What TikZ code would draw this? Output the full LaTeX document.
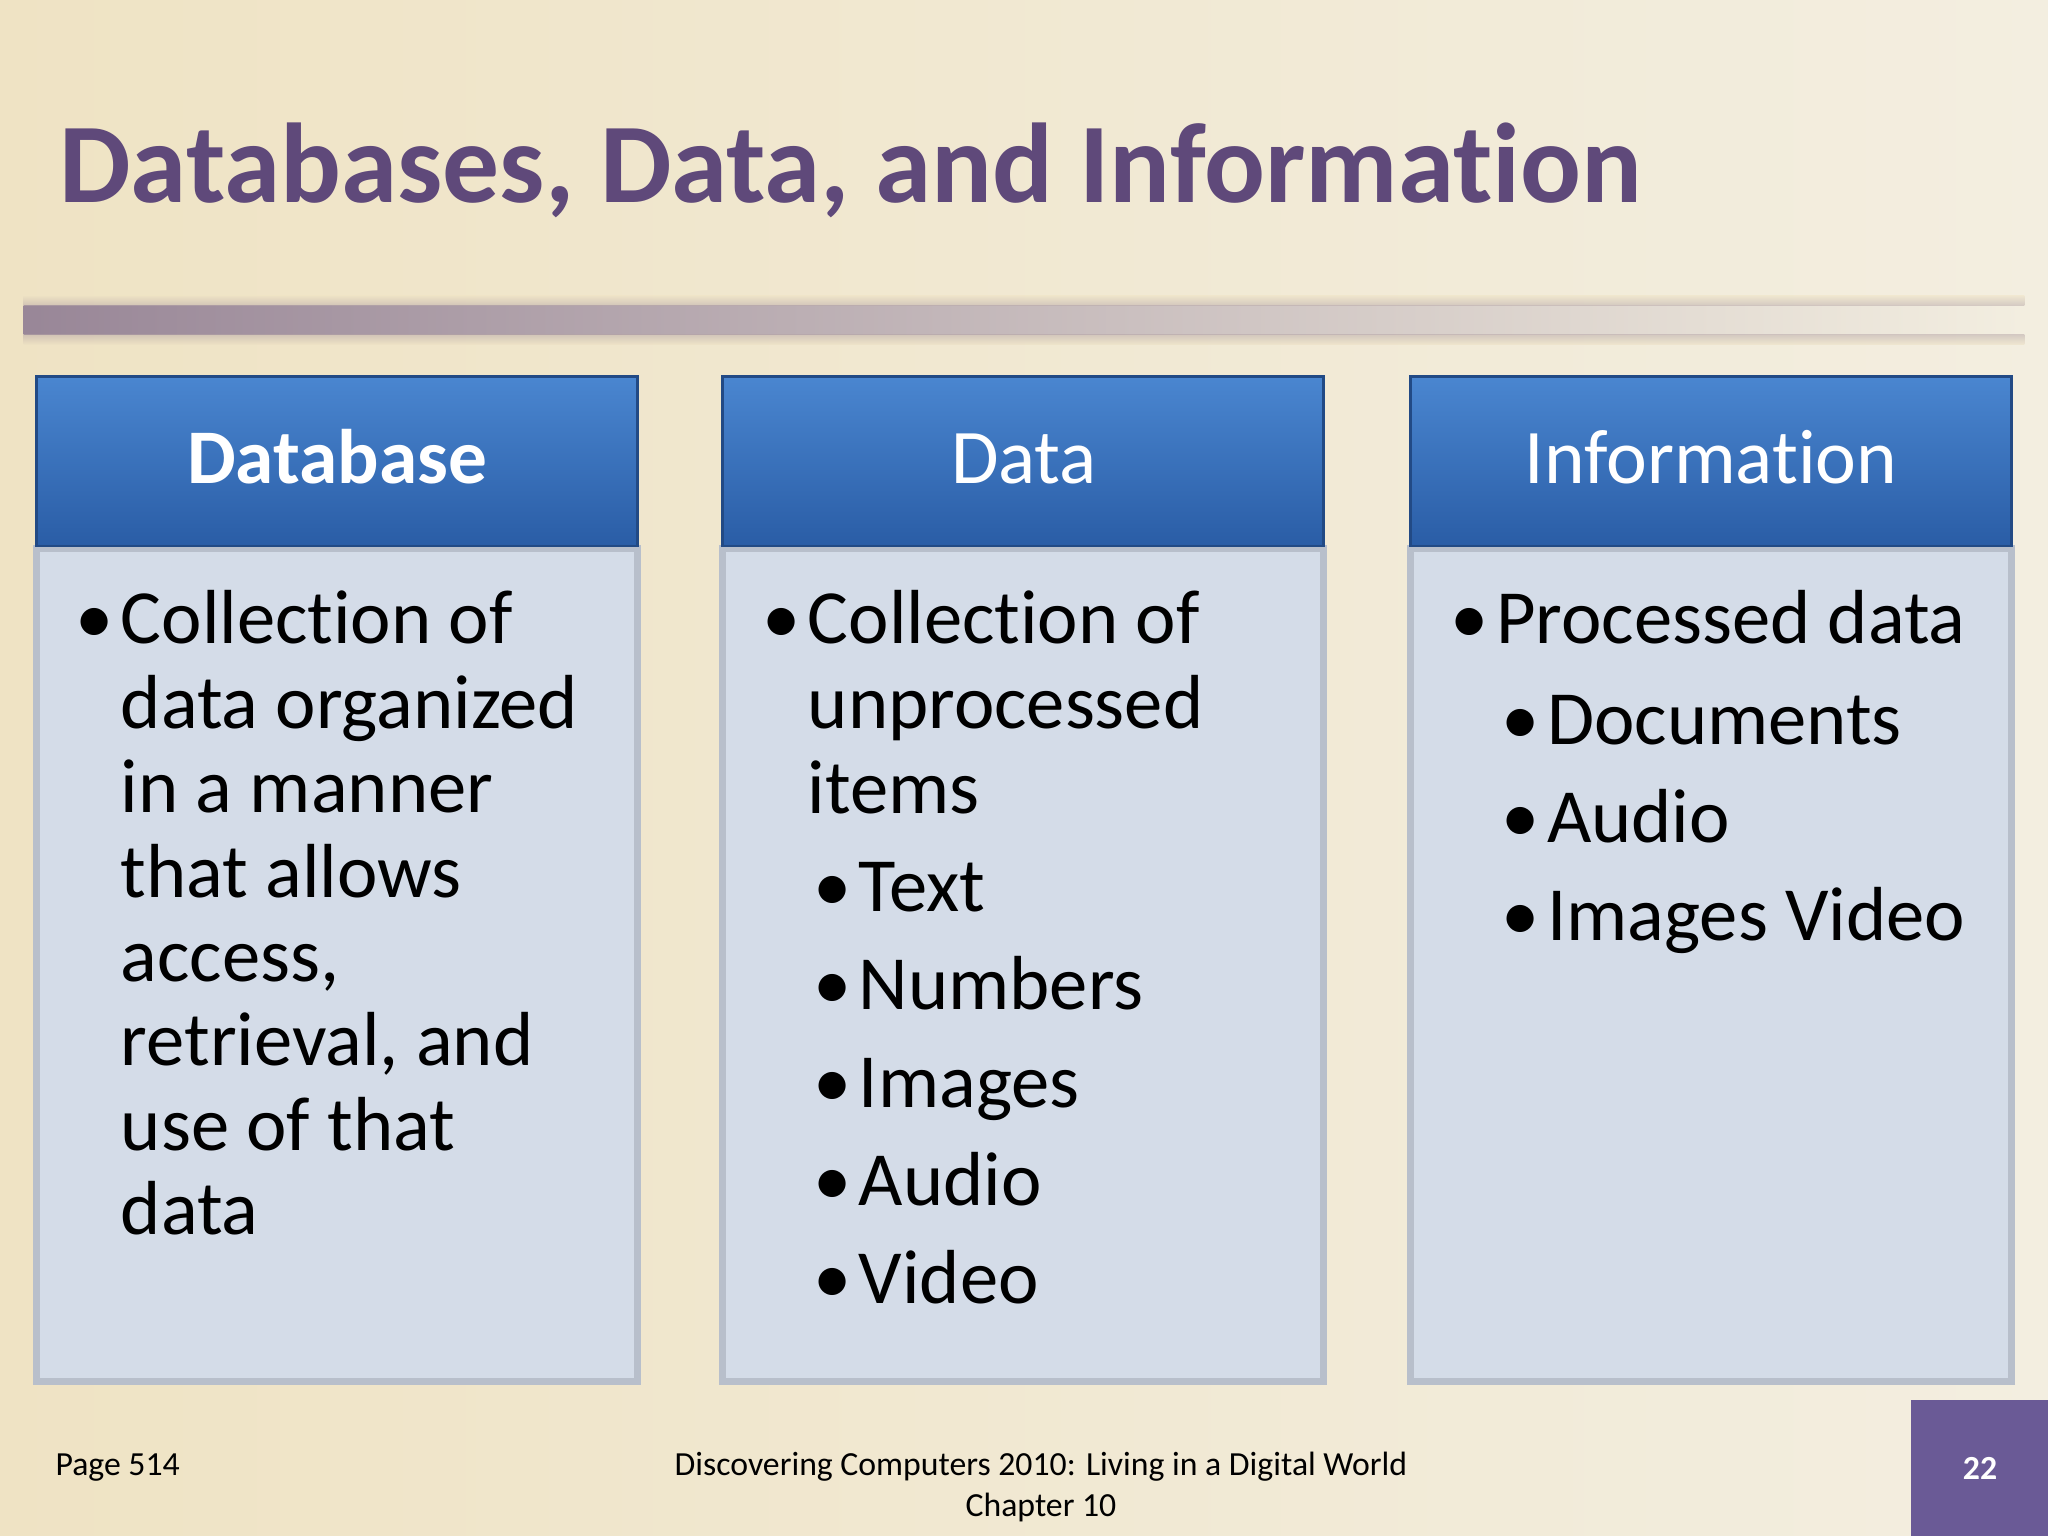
\documentclass[tikz,border=0pt]{standalone}
\usepackage{fontspec}
\setmainfont[Ligatures=NoCommon]{Carlito}
\definecolor{titlec}{HTML}{5F497A}
\definecolor{bg1}{HTML}{EFE3C4}
\definecolor{bg2}{HTML}{F3EEE0}
\definecolor{hd1}{HTML}{4A86D0}
\definecolor{hd2}{HTML}{2A5DA6}
\definecolor{bodyc}{HTML}{D4DCE8}
\definecolor{edgec}{HTML}{B8BFCB}
\definecolor{pg}{HTML}{6A5A96}
\tikzset{
 hdr/.style={draw=hd2!80!black,line width=0.8pt,top color=hd1,bottom color=hd2},
 bodybox/.style={draw=edgec,line width=2pt,fill=bodyc},
 htxt/.style={text=white,font=\fontsize{22}{26}\selectfont,anchor=base},
 btxt/.style={text=black,font=\fontsize{21.8}{26}\selectfont,anchor=base west,inner sep=0pt},
 ftxt/.style={inner sep=0pt,font=\fontsize{9.6}{11}\selectfont},
}
\begin{document}
\begin{tikzpicture}[x=0.013061cm,y=-0.013061cm]
\useasboundingbox (0,0) rectangle (1568,1176);
\shade[left color=bg1,right color=bg2] (0,0) rectangle (1568,1176);
\shade[left color=titlec!60!bg1,right color=bg2] (18,234) rectangle (1550,256);
\shade[top color=bg1,bottom color=titlec!40!bg1,opacity=0.5] (18,226) rectangle (1550,234);
\shade[bottom color=bg1,top color=titlec!40!bg1,opacity=0.5] (18,256) rectangle (1550,264);
\node[anchor=base west,inner sep=0pt,text=titlec,font=\fontsize{32.3}{38}\selectfont\bfseries] (title) at (45,155) {Databases, Data, and Information};
% boxes
\foreach \n/\x in {a/28,b/553,c/1080}{
 \draw[bodybox] (\x,420) rectangle ++(460,638);
 \draw[hdr] (\x,288) rectangle ++(460,130);
}
\node[htxt,font=\fontsize{22}{26}\selectfont\bfseries] (h1) at (258,370) {Database};
\node[htxt] (h2) at (784,370) {Data};
\node[htxt] (h3) at (1310,370) {Information};
% box 1
\node[btxt] (b1) at (57,493) {\textbullet};
\foreach \t [count=\i from 0] in {Collection of,data organized,in a manner,that allows,{access,},{retrieval, and},use of that,data}
 \node[btxt] (l1\i) at (92,493+64.6*\i) {\t};
% box 2
\node[btxt] (b2) at (583,493) {\textbullet};
\foreach \t [count=\i from 0] in {Collection of,unprocessed,items}
 \node[btxt] (l2\i) at (618,493+65*\i) {\t};
\foreach \t [count=\i from 0] in {Text,Numbers,Images,Audio,Video}{
 \node[btxt] (s2b\i) at (622,698+75*\i) {\textbullet};
 \node[btxt] (s2\i) at (657,698+75*\i) {\t};
}
% box 3
\node[btxt] (b3) at (1110,493) {\textbullet};
\node[btxt] (l30) at (1145,493) {Processed data};
\foreach \t [count=\i from 0] in {Documents,Audio,Images Video}{
 \node[btxt] (s3b\i) at (1149,570+75*\i) {\textbullet};
 \node[btxt] (s3\i) at (1184,570+75*\i) {\t};
}
% footer
\node[ftxt,anchor=base west] (pgl) at (42,1130) {Page 514};
\node[ftxt,anchor=base] (f1) at (797,1130) {Discovering Computers 2010: Living in a Digital World};
\node[ftxt,anchor=base] (f2) at (797,1161) {Chapter 10};
\fill[pg] (1463,1072) rectangle (1568,1176);
\node[text=white,font=\fontsize{9.6}{11}\selectfont\bfseries] (pn) at (1516,1124) {22};
\end{tikzpicture}
\end{document}
